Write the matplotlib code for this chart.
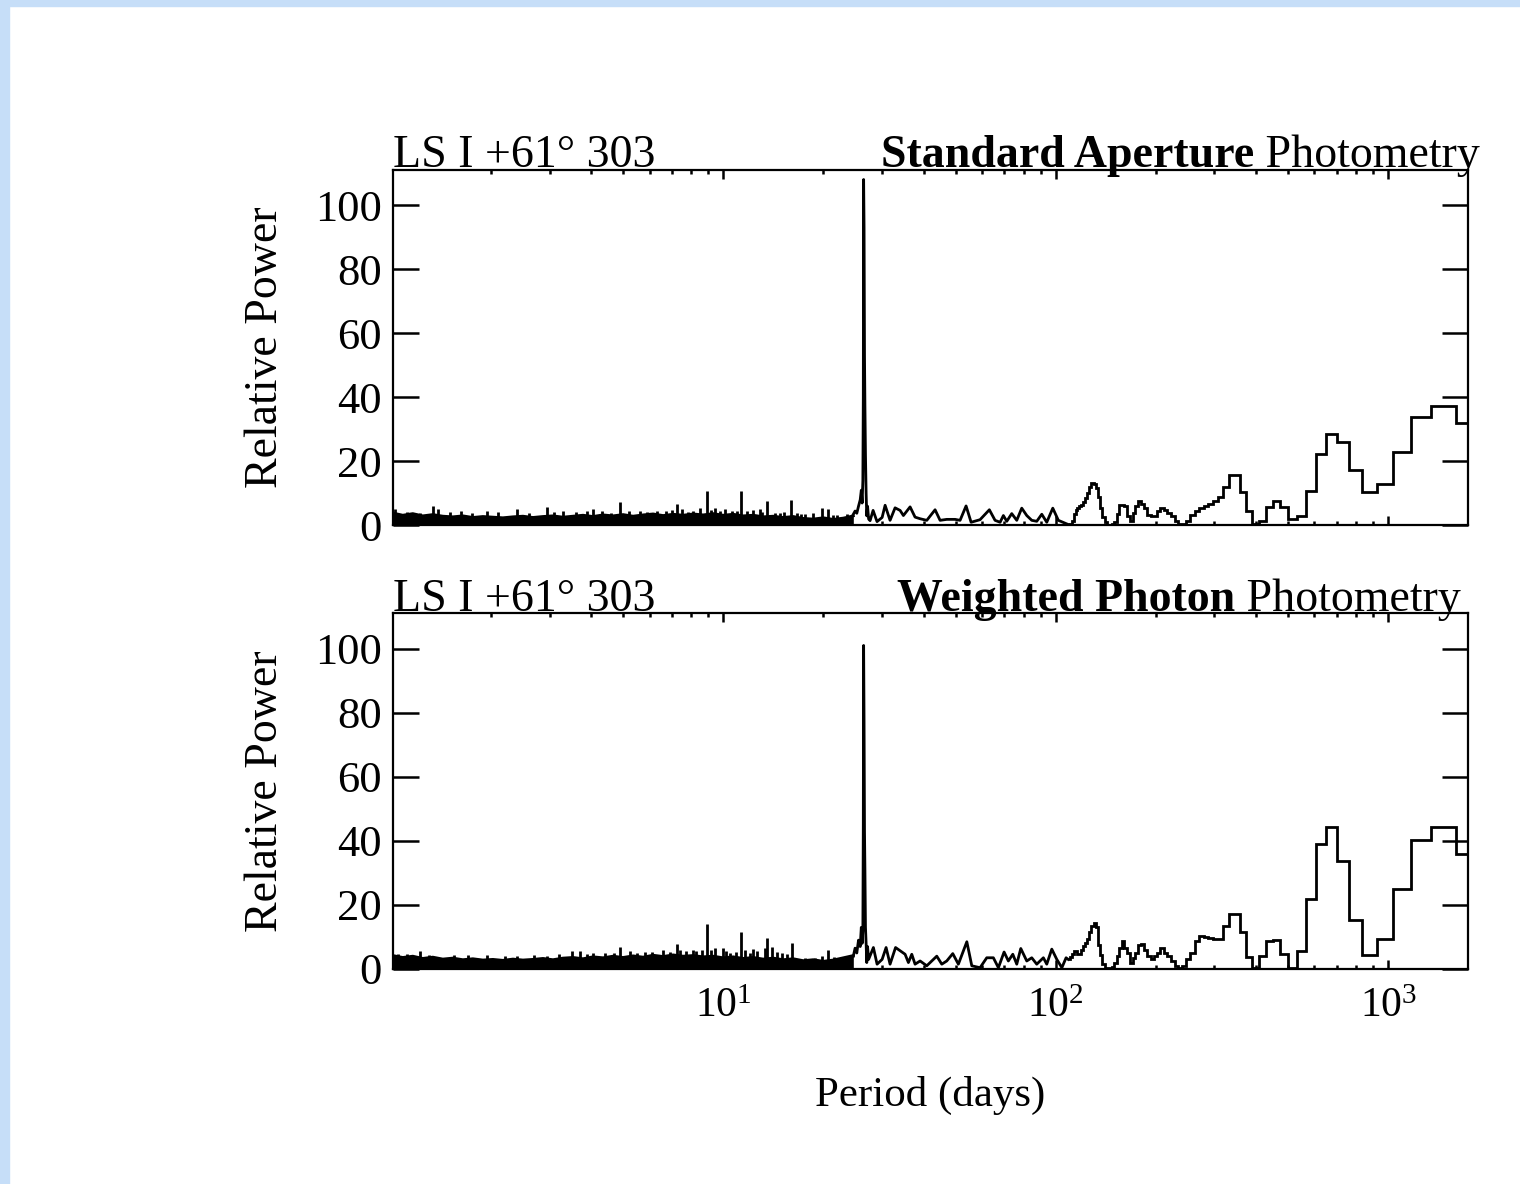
import numpy as np
import matplotlib
matplotlib.use("Agg")
import matplotlib.pyplot as plt
from matplotlib.patches import Rectangle
from matplotlib.ticker import LogLocator, NullFormatter, MultipleLocator, NullLocator

plt.rcParams.update({
    "font.family": "Liberation Serif",
    "mathtext.fontset": "custom",
    "mathtext.rm": "Liberation Serif",
    "font.size": 32,
})

DF = 1.14e-4                 # frequency step of the periodogram grid [1/day]
P_MIN, P_MAX = 1.0125, 1744.0
SOURCE = "LS I +61\u00b0 303"

# ---- short-period noise floor (log-spaced from P_MIN to ~24.6 d) ---------- #
top_band = [3.9, 3.2, 3.7, 3.0, 3.4, 2.9, 2.7, 3.0, 2.5, 2.8, 2.6, 2.4, 2.7,
            2.9, 2.5, 2.8, 3.0, 2.6, 2.9, 3.2, 2.8, 3.3, 3.0, 3.4, 2.9, 3.3,
            3.6, 3.1, 3.5, 3.2, 3.6, 3.3, 3.7, 3.2, 3.5, 3.0, 3.2, 2.7, 2.9,
            2.5, 2.8, 2.2, 2.0, 2.4, 1.9, 2.3, 3.0]
bot_band = [4.2, 3.6, 4.0, 3.3, 3.7, 3.1, 3.4, 2.9, 3.2, 2.8, 3.0, 2.7, 3.1,
            2.8, 3.0, 3.3, 2.9, 3.4, 3.6, 3.2, 3.8, 3.5, 4.0, 3.6, 4.1, 3.7,
            4.3, 3.9, 4.4, 4.0, 4.2, 3.8, 4.0, 3.5, 3.8, 3.3, 3.6, 3.1, 3.4,
            2.9, 3.2, 2.6, 2.9, 2.4, 2.8, 3.5, 4.2]

# noise spikes above the floor
top_spike_P = [1.029, 1.12, 1.22, 1.339, 1.386, 1.5, 1.62, 1.75, 1.946, 2.1,
               2.395, 2.6, 2.949, 3.1, 3.3, 3.6, 3.89, 4.055, 4.3, 4.6, 4.889,
               5.2, 5.616, 5.9, 6.317, 6.7, 7.0, 7.256, 7.511, 7.8, 8.102,
               8.508, 8.933, 9.2, 9.441, 9.8, 10.12, 10.6, 11.0, 11.30, 11.78,
               12.3, 12.89, 13.1, 13.54, 14.31, 14.8, 15.2, 15.98, 16.6, 17.1,
               17.62, 18.6, 19.82, 20.66, 21.3, 22.0, 23.56]
top_spike_pow = [5.2, 4.3, 4.0, 6.2, 5.0, 4.2, 4.6, 3.9, 4.4, 4.1,
                 5.0, 4.0, 5.7, 4.3, 4.5, 4.1, 4.5, 5.0, 4.4, 4.0, 7.3,
                 4.6, 4.5, 4.2, 4.5, 4.4, 4.8, 6.8, 5.0, 4.3, 4.6,
                 5.5, 10.7, 4.7, 5.5, 4.4, 5.0, 4.4, 4.6, 10.7, 4.5,
                 4.8, 5.0, 4.2, 7.6, 4.0, 4.0, 4.2, 8.0, 3.8, 3.5,
                 3.5, 3.8, 5.5, 5.0, 3.4, 3.2, 3.5]
bot_spike_P = [1.05, 1.12, 1.224, 1.3, 1.55, 1.7, 1.946, 2.2, 2.4, 2.7, 2.949,
               3.2, 3.506, 3.706, 3.9, 4.055, 4.4, 4.7, 4.889, 5.24, 5.5, 5.8,
               6.1, 6.585, 6.9, 7.256, 7.4, 7.7, 8.102, 8.3, 8.6, 8.933, 9.2,
               9.441, 9.979, 10.2, 10.5, 10.9, 11.30, 11.6, 12.0, 12.3, 12.63,
               13.3, 13.54, 14.0, 14.5, 15.0, 15.5, 16.09, 17.62, 18.9, 19.8,
               20.66, 21.5, 22.3]
bot_spike_pow = [4.6, 4.8, 5.5, 4.4, 4.4, 4.3, 4.5, 4.2, 4.2, 4.3, 4.1,
                 4.6, 5.5, 5.5, 4.8, 5.0, 5.0, 5.0, 7.0, 5.5, 5.0, 5.2,
                 5.2, 5.8, 5.4, 7.9, 6.0, 5.5, 6.0, 5.5, 6.0, 14.0, 5.8,
                 6.5, 6.5, 5.5, 5.0, 5.2, 11.7, 5.8, 5.0, 6.2, 5.5,
                 6.5, 9.6, 7.0, 5.4, 5.0, 4.8, 8.1, 3.4, 3.5, 4.0,
                 6.0, 3.6, 3.5]

# ---- orbital peak and 28-110 d range ------------------------------------- #
top_P = [24.6, 24.9, 25.2, 25.5, 25.8, 26.0, 26.15, 26.28, 26.36, 26.42,
         26.50, 26.58, 26.66, 26.76, 26.88, 27.0, 27.15, 27.35,
         27.63, 28.21, 28.99, 30.03, 30.66, 31.73, 32.85, 34.01, 34.80,
         36.45, 37.73, 39.07, 40.92, 43.34, 44.87, 46.99, 49.78, 51.53,
         53.72, 55.62, 59.18, 63.12, 65.66, 68.0, 69.56, 71.21, 73.71,
         76.32, 79.0, 81.79, 84.67, 87.65, 90.76, 93.95, 97.95, 101.8,
         106.7, 108.97]
top_pow = [3.5, 4.5, 3.8, 6.0, 8.0, 11.0, 7.0, 14.0, 40.0, 108.0,
           93.0, 53.0, 37.0, 22.0, 10.0, 3.0, 6.0, 2.0,
           1.5, 4.7, 1.2, 2.5, 6.3, 1.6, 5.5, 4.7, 3.1,
           5.8, 2.6, 2.1, 1.6, 4.9, 1.6, 1.9, 1.9, 1.6,
           6.1, 1.0, 1.8, 4.9, 1.6, 1.0, 3.1, 1.3, 3.7,
           1.6, 5.4, 3.1, 1.6, 1.3, 3.5, 1.0, 5.4, 1.6,
           0.7, 0.3]
bot_P = [24.6, 24.9, 25.2, 25.5, 25.8, 26.0, 26.15, 26.28, 26.36, 26.42,
         26.50, 26.58, 26.66, 26.76, 26.88, 27.0, 27.15, 27.35,
         28.27, 29.0, 30.03, 30.87, 31.73, 32.96, 35.21, 36.03, 36.88,
         37.73, 39.07, 40.92, 43.85, 45.4, 46.99, 48.99, 50.93, 54.0,
         55.89, 59.18, 61.99, 64.9, 67.2, 69.9, 72.0, 74.25, 76.32,
         78.47, 81.79, 84.67, 87.65, 91.77, 93.95, 97.27, 100.7, 104.3,
         107.4, 108.97]
bot_pow = [4.0, 6.5, 5.0, 9.0, 7.0, 13.0, 8.0, 12.0, 45.0, 101.0,
           77.0, 43.0, 30.7, 13.0, 8.0, 2.0, 7.0, 3.0,
           6.7, 1.5, 3.0, 6.7, 1.5, 6.7, 4.6, 2.0, 4.6,
           1.5, 2.5, 1.0, 4.0, 1.5, 2.5, 4.8, 1.5, 8.5,
           1.0, 0.4, 3.5, 3.5, 0.4, 5.3, 2.5, 4.6, 1.5,
           6.4, 2.5, 3.5, 1.5, 3.5, 1.5, 6.2, 3.0, 0.4,
           3.5, 3.0]

# ---- long periods: one value per frequency bin k = 5..80 ----------------- #
K = np.arange(5, 81)
top_steps = [31.9, 37.4, 33.9, 23.0, 12.8, 10.4, 17.2, 26.1, 28.7, 22.2,
             10.9, 3.0, 2.0, 5.7, 7.5, 5.8, 1.5, 0.5, 4.6, 10.6,
             15.7, 15.7, 12.0, 8.9, 7.5, 6.7, 6.2, 5.4, 4.5, 3.4,
             1.5, 0.3, 0.5, 1.3, 2.8, 3.9, 4.8, 5.4, 4.6, 3.0,
             2.8, 3.2, 5.4, 6.8, 7.5, 6.0, 3.9, 1.5, 3.0, 6.0,
             6.5, 6.3, 3.5, 1.0, 0.3, 0.2, 0.2, 1.0, 2.5, 5.5,
             9.0, 11.7, 13.0, 13.3, 12.0, 10.0, 8.5, 7.2, 6.5, 6.0,
             5.5, 4.8, 3.5, 1.5, 0.5, 0.3]
bot_steps = [35.8, 44.2, 40.2, 24.9, 9.4, 4.5, 15.3, 33.6, 44.2, 39.0,
             21.8, 5.7, 0.2, 4.7, 9.0, 8.8, 4.2, 0.2, 3.6, 11.6,
             17.1, 17.1, 13.5, 9.5, 9.3, 9.8, 10.0, 10.3, 8.8, 5.1,
             3.0, 1.0, 0.3, 1.0, 2.5, 4.0, 5.1, 6.7, 5.0, 4.0,
             3.0, 4.0, 6.0, 7.7, 7.5, 5.1, 3.5, 2.0, 5.0, 6.7,
             8.8, 6.5, 4.0, 2.0, 0.6, 0.4, 0.4, 0.4, 1.5, 4.5,
             7.5, 13.0, 14.3, 13.5, 11.4, 9.5, 8.0, 7.2, 6.0, 4.8,
             4.8, 5.6, 5.6, 4.8, 3.8, 3.0]

LW = 2.0


def draw_panel(ax, band, sp_P, sp_pow, line_P, line_pow, steps, bold, bold_x,
               xlabels):
    band_P = np.geomspace(P_MIN, 24.6, len(band))
    ax.fill_between(band_P, 0, band, color="k", lw=0)
    ax.plot(band_P, band, color="k", lw=LW)
    ax.vlines(sp_P, 0, sp_pow, color="k", lw=LW)
    ax.plot(line_P, line_pow, color="k", lw=LW)
    # histogram-style bins on the frequency grid, ordered by period
    edges = 1.0 / (np.append(K[0] - 0.5, K + 0.5) * DF)
    ax.stairs(np.asarray(steps)[::-1], edges[::-1], baseline=None,
              color="k", lw=LW)

    ax.set_xscale("log")
    ax.set_xlim(P_MIN, P_MAX)
    ax.set_ylim(0, 111)
    ax.yaxis.set_major_locator(MultipleLocator(20))
    ax.yaxis.set_minor_locator(NullLocator())
    ax.xaxis.set_major_locator(LogLocator(base=10))
    ax.xaxis.set_minor_locator(LogLocator(base=10, subs=np.arange(2, 10)))
    ax.xaxis.set_minor_formatter(NullFormatter())
    ax.tick_params(which="both", direction="in", top=True, right=True,
                   width=1.8, color="k")
    ax.tick_params(axis="y", which="major", length=19, pad=8, labelsize=32)
    ax.tick_params(axis="x", which="major", length=6.5, pad=13, labelsize=30)
    ax.tick_params(axis="x", which="minor", length=3.2)
    if not xlabels:
        ax.tick_params(axis="x", labelbottom=False)
    for s in ax.spines.values():
        s.set_linewidth(1.6)
    ax.set_ylabel("Relative Power", fontsize=33, labelpad=20)

    ax.text(0, 1.008, SOURCE, transform=ax.transAxes, ha="left",
            va="baseline", fontsize=33)
    t = ax.text(bold_x, 1.008, bold, transform=ax.transAxes, ha="left",
                va="baseline", fontsize=33, fontweight="bold")
    ax.annotate(" Photometry", xy=(1, 0), xycoords=t, ha="left",
                va="bottom", fontsize=33)


fig = plt.figure(figsize=(15.2, 11.84), dpi=100)
fig.add_artist(Rectangle((0, 0), 9 / 1520, 1, transform=fig.transFigure,
                         color="#c6def8", zorder=-1))
fig.add_artist(Rectangle((0, 1 - 6 / 1184), 1, 6 / 1184,
                         transform=fig.transFigure, color="#c6def8", zorder=-1))

ax1 = fig.add_axes([0.2584, 0.5562, 0.7077, 0.3003])
ax2 = fig.add_axes([0.2584, 0.1816, 0.7077, 0.3003])

draw_panel(ax1, top_band, top_spike_P, top_spike_pow, top_P, top_pow,
           top_steps, "Standard Aperture", 0.4539, False)
draw_panel(ax2, bot_band, bot_spike_P, bot_spike_pow, bot_P, bot_pow,
           bot_steps, "Weighted Photon", 0.4688, True)
ax2.set_xlabel("Period (days)", fontsize=31, labelpad=36)

fig.savefig("out.png", dpi=100)
